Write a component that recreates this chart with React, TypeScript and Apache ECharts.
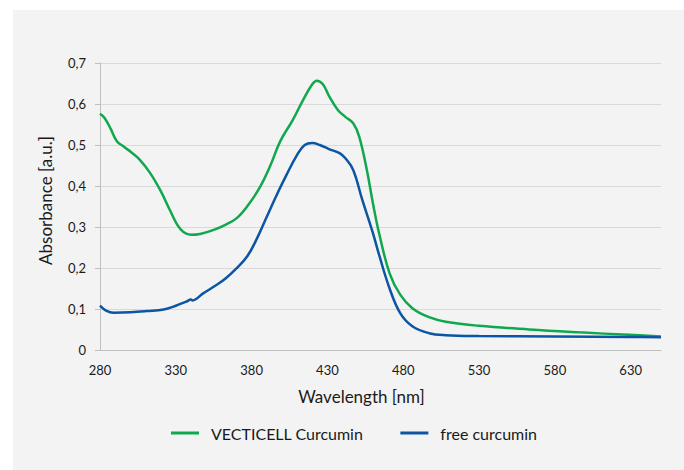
import React, { useEffect, useRef } from "react";
import * as echarts from "echarts";

const seriesNames = ["VECTICELL Curcumin", "free curcumin"];

const vecticellNm = [280, 283, 287, 291, 296, 300, 306, 313, 320, 326, 331, 335, 340, 346, 355, 363, 370, 377, 385, 392, 399, 407, 414, 420, 423, 427, 431, 437, 442, 447, 451, 456, 460, 464, 471, 478, 486, 497, 508, 530, 563, 596, 629, 650];
const vecticellAbs = [0.576, 0.566, 0.54, 0.51, 0.495, 0.484, 0.465, 0.432, 0.388, 0.342, 0.305, 0.288, 0.281, 0.283, 0.293, 0.306, 0.321, 0.35, 0.394, 0.447, 0.51, 0.56, 0.61, 0.648, 0.657, 0.648, 0.62, 0.585, 0.568, 0.553, 0.52, 0.439, 0.358, 0.286, 0.187, 0.135, 0.102, 0.08, 0.069, 0.059, 0.05, 0.043, 0.037, 0.033];

const freeNm = [280, 284, 289, 300, 311, 322, 330, 337, 340, 341, 348, 357, 363, 370, 377, 383, 390, 396, 403, 410, 415, 420, 425, 431, 438, 442, 447, 453, 460, 464, 471, 478, 486, 497, 508, 530, 580, 630, 650];
const freeAbs = [0.108, 0.096, 0.091, 0.092, 0.095, 0.099, 0.108, 0.118, 0.123, 0.121, 0.138, 0.159, 0.175, 0.199, 0.228, 0.268, 0.325, 0.374, 0.427, 0.476, 0.5, 0.505, 0.5, 0.49, 0.48, 0.467, 0.439, 0.366, 0.285, 0.233, 0.15, 0.09, 0.058, 0.041, 0.036, 0.034, 0.033, 0.032, 0.031];

const xTickLabels = [280, 330, 380, 430, 480, 530, 580, 630];
const yTickLabels = ["0", "0,1", "0,2", "0,3", "0,4", "0,5", "0,6", "0,7"];

const FONT = "Lato, 'Open Sans', sans-serif";

export default function App() {
  const ref = useRef<HTMLDivElement>(null);
  useEffect(() => {
    if (!ref.current) return;
    const chart = echarts.init(ref.current, undefined, { renderer: "svg" });
    const zip = (xs: number[], ys: number[]) => xs.map((x, i) => [x, ys[i]]);
    chart.setOption({
      animation: false,
      backgroundColor: "#ffffff",
      textStyle: { fontFamily: FONT },
      graphic: [
        {
          type: "rect",
          z: -10,
          silent: true,
          shape: { x: 13, y: 10, width: 671, height: 460 },
          style: { fill: "#f3f3f3" },
        },
      ],
      grid: { left: 100, right: 23, top: 63, bottom: 120, containLabel: false },
      legend: {
        top: 420,
        left: 166,
        icon: "rect",
        itemWidth: 28,
        itemHeight: 3,
        itemGap: 37,
        textStyle: { fontFamily: FONT, fontSize: 16, color: "#1a1a1a", padding: [0, 0, 0, 7] },
        data: seriesNames,
      },
      xAxis: {
        type: "value",
        min: 280,
        max: 650,
        interval: 10,
        name: "Wavelength [nm]",
        nameLocation: "middle",
        nameGap: 38,
        nameTextStyle: { fontFamily: FONT, fontSize: 17, color: "#1a1a1a", padding: [0, 38, 0, 0] },
        axisLine: { show: true, lineStyle: { color: "#bfbfbf", width: 1 } },
        axisTick: { show: false },
        splitLine: { show: false },
        axisLabel: {
          margin: 13,
          fontFamily: FONT,
          fontSize: 13,
          color: "#1a1a1a",
          formatter: (v: number) => (xTickLabels.includes(Math.round(v)) ? String(Math.round(v)) : ""),
        },
      },
      yAxis: {
        type: "value",
        min: 0,
        max: 0.7,
        interval: 0.1,
        name: "Absorbance [a.u.]",
        nameLocation: "middle",
        nameGap: 46,
        nameTextStyle: { fontFamily: FONT, fontSize: 17, color: "#1a1a1a", padding: [0, 0, 0, 12] },
        axisLine: { show: true, lineStyle: { color: "#bfbfbf", width: 1 } },
        axisTick: { show: true, length: 5, lineStyle: { color: "#bfbfbf" } },
        splitLine: { show: true, lineStyle: { color: "#d9d9d9", width: 1 } },
        axisLabel: {
          margin: 14,
          fontFamily: FONT,
          fontSize: 13,
          color: "#1a1a1a",
          formatter: (v: number) => yTickLabels[Math.round(v * 10)] ?? "",
        },
      },
      series: [
        {
          name: seriesNames[0],
          type: "line",
          data: zip(vecticellNm, vecticellAbs),
          showSymbol: false,
          smooth: 0.4,
          lineStyle: { color: "#0fa84e", width: 2.5 },
          itemStyle: { color: "#0fa84e" },
        },
        {
          name: seriesNames[1],
          type: "line",
          data: zip(freeNm, freeAbs),
          showSymbol: false,
          smooth: 0.4,
          lineStyle: { color: "#0c55a3", width: 2.5 },
          itemStyle: { color: "#0c55a3" },
        },
      ],
    });
    return () => chart.dispose();
  }, []);
  return (
    <div style={{ position: "absolute", left: 0, top: 0, width: 684, height: 470 }}>
      <div ref={ref} style={{ width: 684, height: 470 }} />
    </div>
  );
}
